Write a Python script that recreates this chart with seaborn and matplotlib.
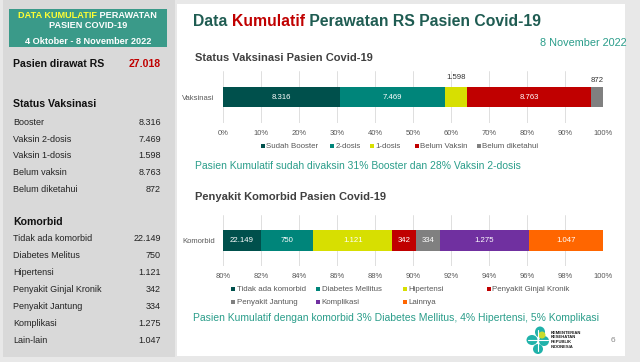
import matplotlib
matplotlib.use("Agg")
import matplotlib.pyplot as plt
from matplotlib.patches import Rectangle, Ellipse
import seaborn as sns
import pandas as pd
import numpy as np

# Data
total_pasien = 27018

vaksin_kategori = ["Sudah Booster", "2-dosis", "1-dosis", "Belum Vaksin", "Belum diketahui"]
vaksin_panel = ["Booster", "Vaksin 2-dosis", "Vaksin 1-dosis", "Belum vaksin", "Belum diketahui"]
vaksin_nilai = [8316, 7469, 1598, 8763, 872]
vaksin_warna = ["#00504c", "#00857a", "#d7df01", "#c00000", "#808080"]

komorbid_kategori = ["Tidak ada komorbid", "Diabetes Mellitus", "Hipertensi",
                     "Penyakit Ginjal Kronik", "Penyakit Jantung", "Komplikasi", "Lainnya"]
komorbid_panel = ["Tidak ada komorbid", "Diabetes Melitus", "Hipertensi",
                  "Penyakit Ginjal Kronik", "Penyakit Jantung", "Komplikasi", "Lain-lain"]
komorbid_nilai = [22149, 750, 1121, 342, 334, 1275, 1047]
komorbid_warna = ["#00504c", "#00857a", "#d7df01", "#c00000", "#808080", "#7030a0", "#ff6600"]

vaksin_ticks = list(range(0, 101, 10))
komorbid_ticks = list(range(80, 101, 2))

TEAL = "#1f5c52"
TEAL_TXT = "#2a9d8a"
GRAY = "#595959"


def fmt(v):
    return f"{v:,}".replace(",", ".")


sns.set_theme(style="white")
plt.rcParams["font.family"] = ["Liberation Sans", "DejaVu Sans"]

W, H = 640, 362
fig = plt.figure(figsize=(6.4, 3.62), dpi=100)
fig.patch.set_facecolor("#e8e8e8")

# latar belakang dengan koordinat piksel
bg = fig.add_axes([0, 0, 1, 1])
bg.set_xlim(0, W)
bg.set_ylim(H, 0)
bg.axis("off")
bg.set_zorder(0)

bg.add_patch(Rectangle((3, 0), 172, 357, color="#d9d9d9", lw=0))
bg.add_patch(Rectangle((177, 4), 448, 352, color="white", lw=0))
bg.add_patch(Rectangle((9, 9), 158, 38, color="#3a9a89", lw=0))


def warna_teks(x, y, parts, **kw):
    t = bg.text(x, y, parts[0][0], color=parts[0][1], va="center", **kw)
    for s, c in parts[1:]:
        t = bg.annotate(s, xy=(1, 0.5), xycoords=t, va="center", color=c, **kw)
    return t


# panel kiri
warna_teks(18, 15.5, [("DATA KUMULATIF", "#ffff33"), (" PERAWATAN", "white")],
           fontsize=6.6, fontweight="bold")
bg.text(88, 25.5, "PASIEN COVID-19", color="white", fontsize=6.6, fontweight="bold",
        ha="center", va="center")
bg.text(88, 42, "4 Oktober - 8 November 2022", color="white", fontsize=6.6,
        fontweight="bold", ha="center", va="center")

bg.text(13, 64, "Pasien dirawat RS", fontsize=7.6, fontweight="bold", color="#111111", va="center")
bg.text(161, 64, fmt(total_pasien), fontsize=7.6, fontweight="bold", color="#c00000",
        ha="right", va="center")

bg.text(13, 104, "Status Vaksinasi", fontsize=7.6, fontweight="bold", color="#111111", va="center")
for i, (lab, v) in enumerate(zip(vaksin_panel, vaksin_nilai)):
    y = 122.3 + i * 16.7
    bg.text(13, y, lab, fontsize=6.5, color="#222222", va="center")
    bg.text(161, y, fmt(v), fontsize=6.5, color="#222222", ha="right", va="center")

bg.text(13, 222, "Komorbid", fontsize=7.6, fontweight="bold", color="#111111", va="center")
for i, (lab, v) in enumerate(zip(komorbid_panel, komorbid_nilai)):
    y = 238.7 + i * 17
    bg.text(13, y, lab, fontsize=6.5, color="#222222", va="center")
    bg.text(161, y, fmt(v), fontsize=6.5, color="#222222", ha="right", va="center")

# panel kanan: judul
warna_teks(193, 21.5, [("Data ", TEAL), ("Kumulatif", "#c00000"),
                       (" Perawatan RS Pasien Covid-19", TEAL)],
           fontsize=11.3, fontweight="bold")
bg.text(627, 43, "8 November 2022", color=TEAL_TXT, fontsize=7.8, ha="right", va="center")
bg.text(195, 58, "Status Vaksinasi Pasien Covid-19", color="#404040", fontsize=8,
        fontweight="bold", va="center")
bg.text(195, 166, "Pasien Kumulatif sudah divaksin 31% Booster dan 28% Vaksin 2-dosis",
        color=TEAL_TXT, fontsize=7.5, va="center")
bg.text(195, 197, "Penyakit Komorbid Pasien Covid-19", color="#404040", fontsize=8,
        fontweight="bold", va="center")
bg.text(193, 318, "Pasien Kumulatif dengan komorbid 3% Diabetes Mellitus, 4% Hipertensi, 5% Komplikasi",
        color=TEAL_TXT, fontsize=7.5, va="center")


def axes_px(x0, y0, x1, y1):
    ax = fig.add_axes([x0 / W, 1 - y1 / H, (x1 - x0) / W, (y1 - y0) / H])
    ax.set_facecolor("none")
    ax.set_zorder(1)
    return ax


def stacked_bar(ax, label, nilai, warna, x_min):
    pct = np.array(nilai) / sum(nilai) * 100
    end = np.cumsum(pct)
    start = end - pct
    # gambar dari ujung terjauh supaya segmen pendek ada di atas
    for i in reversed(range(len(nilai))):
        df = pd.DataFrame({"baris": [label], "persen": [end[i]]})
        sns.barplot(data=df, x="persen", y="baris", color=warna[i], width=0.4,
                    orient="h", saturation=1, errorbar=None, linewidth=0, ax=ax)
    ax.set_ylim(0.5, -0.5)
    ax.set(xlabel="", ylabel="")
    sns.despine(ax=ax, left=True, bottom=True)
    ax.xaxis.grid(True, color="#d9d9d9", lw=0.6)
    ax.set_axisbelow(True)
    ax.tick_params(axis="x", length=0, labelsize=5.5, labelcolor=GRAY, pad=5)
    ax.tick_params(axis="y", length=0, labelsize=5.5, labelcolor=GRAY, pad=6)
    centers = (np.maximum(start, x_min) + end) / 2
    return centers


def legend_item(x, y, color, label):
    bg.add_patch(Rectangle((x - 2, y - 2), 4, 4, color=color, lw=0))
    bg.text(x + 3.5, y, label, fontsize=5.7, color=GRAY, va="center")


# chart 1: vaksinasi
ax1 = axes_px(223, 71, 603, 123)
c1 = stacked_bar(ax1, "Vaksinasi", vaksin_nilai, vaksin_warna, 0)
ax1.set_xlim(0, 100)
ax1.set_xticks(vaksin_ticks)
ax1.set_xticklabels([f"{t}%" for t in vaksin_ticks])
for i, v in enumerate(vaksin_nilai):
    if i == 2:
        ax1.text(c1[i], -0.37, fmt(v), ha="center", va="center", fontsize=5.6, color="#333333")
    elif i == 4:
        ax1.text(c1[i], -0.32, fmt(v), ha="center", va="center", fontsize=5.6, color="#333333")
    else:
        ax1.text(c1[i], 0, fmt(v), ha="center", va="center", fontsize=5.6, color="white")

for x, col, lab in zip([262.7, 331.7, 371.7, 417, 479], vaksin_warna, vaksin_kategori):
    legend_item(x, 146, col, lab)

# chart 2: komorbid
ax2 = axes_px(223, 215, 603, 266)
c2 = stacked_bar(ax2, "Komorbid", komorbid_nilai, komorbid_warna, 80)
ax2.set_xlim(80, 100)
ax2.set_xticks(komorbid_ticks)
ax2.set_xticklabels([f"{t}%" for t in komorbid_ticks])
for i, v in enumerate(komorbid_nilai):
    ax2.text(c2[i], 0, fmt(v), ha="center", va="center", fontsize=5.6, color="white")

leg_x = [233.3, 318.3, 405, 489, 233.3, 318.3, 405]
leg_y = [289.3] * 4 + [302.3] * 3
for x, y, col, lab in zip(leg_x, leg_y, komorbid_warna, komorbid_kategori):
    legend_item(x, y, col, lab)

# logo
for (cx, cy, w, h) in [(532, 340, 11, 10), (540, 332, 10, 11), (544, 341, 10, 10), (538, 349, 10, 10)]:
    bg.add_patch(Ellipse((cx, cy), w, h, color="#20b2aa", lw=0))
bg.add_patch(Ellipse((542, 335), 7, 7, color="#c8dc2c", lw=0))
bg.plot([538, 538], [330, 351], color="white", lw=0.8)
bg.plot([528, 548], [340, 340], color="white", lw=0.8)
for j, s in enumerate(["KEMENTERIAN", "KESEHATAN", "REPUBLIK", "INDONESIA"]):
    bg.text(551, 332.5 + j * 4.7, s, fontsize=3, fontweight="bold", color="#1a1a1a", va="center")
bg.text(613, 341, "6", fontsize=6, color="#888888", ha="center", va="center")

fig.savefig("out.png", dpi=100, facecolor=fig.get_facecolor())
